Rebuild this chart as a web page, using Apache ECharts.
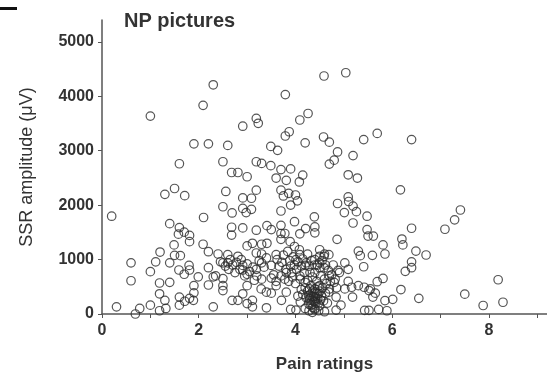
<!DOCTYPE html>
<html>
<head>
<meta charset="utf-8">
<script src="https://cdn.jsdelivr.net/npm/echarts@6/dist/echarts.min.js"></script>
<style>
  html, body { margin: 0; padding: 0; background: #fff; }
  #chart { width: 547px; height: 378px; }
</style>
</head>
<body>
<div id="chart"></div>
<script>
// pain rating (x) vs SSR amplitude in µV (y)
var sparsePoints = [
  [5.04,4431],[4.59,4371],[2.30,4210],[3.79,4030],[2.09,3832],[1.00,3635],[4.26,3683],[4.09,3563],
  [3.19,3593],[3.23,3503],[2.91,3449],[3.87,3347],[3.79,3269],[5.69,3317],[4.58,3251],[4.70,3156],
  [5.41,3204],[6.40,3204],[4.20,3144],[1.90,3126],[2.20,3126],[2.60,3096],[3.49,3078],[3.63,3006],
  [4.87,2976],[5.19,2910],[4.80,2826],[4.70,2754],[1.60,2760],[2.50,2796],[3.19,2796],[3.30,2766],
  [3.49,2725],[3.70,2653],[3.90,2665],[2.68,2599],[2.81,2599],[3.00,2521],[5.09,2557],[5.28,2497],
  [4.15,2551],[4.08,2425],[3.60,2497],[3.81,2455],[6.17,2281],[3.19,2275],[2.56,2251],[1.50,2305],
  [1.30,2198],[1.71,2174],[3.70,2275],[3.75,2168],[3.86,2216],[4.00,2186],[4.04,2078],[3.90,2000],
  [2.91,2132],[3.09,2126],[2.91,1940],[3.09,1922],[2.98,1862],[2.50,1970],[2.69,1856],[3.70,1892],
  [4.87,2030],[5.09,2150],[5.10,2066],[5.19,1982],[5.01,1862],[5.26,1880],[5.48,1796],[5.19,1671],
  [7.41,1910],[7.29,1730],[7.09,1557],[6.40,1575],[0.20,1796],[2.10,1772],[1.40,1659],[1.60,1587],
  [1.70,1503],[1.81,1443],[1.58,1467],[1.81,1329],[2.68,1593],[2.91,1581],[2.68,1449],[3.19,1539],
  [3.41,1623],[3.50,1551],[3.70,1629],[3.70,1479],[3.70,1371],[3.98,1695],[4.39,1784],[4.40,1599],
  [4.21,1569],[4.09,1473],[4.40,1491],[4.86,1371],[5.48,1551],[5.50,1431],[5.61,1431],[5.81,1269],
  [6.20,1377],[6.22,1269],[6.49,1156],[6.70,1084],[5.85,1102],[5.59,1078],[5.30,1156],[5.34,1072],
  [6.40,958],[6.27,784],[6.40,850],[5.41,868],[5.81,653],[5.69,593],[6.18,449],[6.55,287],
  [6.01,269],[5.85,246],[5.72,84],[5.89,60],[5.43,66],[5.52,66],[8.19,629],[7.50,365],
  [7.88,156],[8.29,216]
];

var lowPoints = [
  [0.60,940],[0.60,611],[0.30,132],[0.69,0],[0.78,102],[1.00,162],[1.00,778],[1.11,958],
  [1.20,1138],[1.19,569],[1.19,371],[1.19,60],[1.30,251],[1.32,102],[1.40,581],[1.40,940],
  [1.49,1269],[1.50,1078],[1.62,1072],[1.59,808],[1.70,730],[1.80,892],[1.81,808],[1.60,311],
  [1.60,162],[1.71,234],[1.81,287],[1.89,251],[1.90,521],[1.90,389],[1.99,683],[2.09,1281],
  [2.20,1144],[2.20,850],[2.30,683],[2.20,533],[2.30,132],[2.40,1102],[2.50,940],[2.50,521],
  [2.50,431],[2.60,1090],[2.60,940],[2.69,251],[2.81,251],[2.81,1060],[2.91,892],[2.91,808],
  [3.00,730],[2.91,371],[3.00,521],[3.00,192],[3.11,251],[3.11,132],[3.00,1251],[3.11,1299],
  [3.19,1120],[3.30,1281],[3.41,1299],[3.30,1102],[3.19,820],[3.30,940],[3.50,892],[3.40,1030],
  [3.60,1090],[3.29,461],[3.40,401],[3.50,383],[3.40,114],[3.60,521],[3.71,251],[3.81,401],
  [3.90,84],[4.01,72],[3.81,760],[3.90,880],[4.01,1000],[4.09,1090],[3.98,1240],[3.89,1329],
  [3.78,1479],[4.20,892],[4.09,701],[4.20,581],[4.29,461],[4.29,281],[4.40,222],[4.20,102],
  [4.40,102],[4.60,42],[4.84,72],[4.94,162],[4.84,311],[5.02,461],[5.09,599],[5.09,820],
  [5.02,940],[4.91,760],[4.80,581],[4.70,701],[4.59,850],[4.59,1060],[4.50,1180],[4.50,940],
  [4.40,1000],[4.40,760],[4.50,521],[4.40,401],[4.69,1090],[4.69,401],[5.16,491],[5.18,311],
  [5.30,521],[5.42,491],[5.52,431],[5.60,311],[5.65,383],[5.55,461]
];

var densePoints = [
  [3.62,1000],[3.66,880],[3.72,950],[3.75,1080],[3.80,820],[3.84,1150],[3.88,980],[3.92,760],
  [3.95,1050],[3.98,900],[4.02,820],[4.05,960],[4.08,1180],[4.12,880],[4.15,1010],[4.18,760],
  [4.22,940],[4.25,1100],[3.70,700],[3.78,640],[3.86,600],[3.94,680],[4.00,560],[4.10,640],
  [3.55,720],[3.60,600],[3.50,660],
  [4.22,300],[4.25,420],[4.28,180],[4.30,350],[4.32,520],[4.34,250],[4.36,120],[4.38,320],
  [4.40,460],[4.42,200],[4.44,600],[4.46,280],[4.48,380],[4.50,150],[4.52,700],[4.54,330],
  [4.56,480],[4.58,240],[4.60,640],[4.62,380],[4.64,560],[4.66,200],[4.68,800],[4.70,460],
  [4.72,600],[4.35,680],[4.30,760],[4.25,620],[4.20,480],[4.15,360],[4.10,220],[4.12,450],
  [4.05,330],[4.35,30],[4.40,80],[4.48,60],[4.28,60],[4.45,900],[4.55,980],[4.60,1100],
  [4.50,1060],[4.62,900],[4.75,720],[4.78,900],[4.82,640],[4.85,480],[4.88,800],[4.50,850],
  [4.40,900],[4.33,980],[4.28,880],[4.42,320],[4.36,420],[4.46,500],[4.52,260],[4.30,250],
  [4.38,230],[4.44,380],[4.32,160],[4.47,190],[4.34,330],[4.41,290],[4.27,340],[4.50,420],
  [2.55,880],[2.62,820],[2.70,900],[2.75,760],[2.85,820],[2.95,700],[3.05,780],[3.12,860],
  [3.20,700],[3.25,980],[2.65,1000],[2.78,950],[2.88,1000],[3.00,920],[2.45,960],[2.35,700],
  [2.50,650],[3.15,620],[3.30,640],[3.35,860]
];

var xTicks = [0, 2, 4, 6, 8];
var yTicks = [0, 1000, 2000, 3000, 4000, 5000];

var chart = echarts.init(document.getElementById('chart'));

var tickFont = {
  fontFamily: 'Liberation Sans',
  fontWeight: 'bold',
  fontSize: 16,
  color: '#333'
};

chart.setOption({
  animation: false,
  backgroundColor: '#fff',
  title: {
    text: 'NP pictures',
    left: 119,
    top: 6,
    textStyle: { fontFamily: 'Liberation Sans', fontWeight: 'bold', fontSize: 20, color: '#333' }
  },
  graphic: [
    { type: 'rect', shape: { x: 0, y: 7, width: 17, height: 3 }, style: { fill: '#111' } }
  ],
  grid: { left: 102, right: 0, top: 20, bottom: 59 },
  xAxis: {
    type: 'value',
    min: 0,
    max: 9.2,
    interval: 1,
    name: 'Pain ratings',
    nameLocation: 'middle',
    nameGap: 42,
    nameTextStyle: { fontFamily: 'Liberation Sans', fontWeight: 'bold', fontSize: 17, color: '#333' },
    splitLine: { show: false },
    axisLine: { lineStyle: { color: '#555', width: 1.5 } },
    axisTick: { length: 4, lineStyle: { color: '#555' } },
    axisLabel: Object.assign({
      margin: 9,
      showMaxLabel: false,
      formatter: function (v) { return xTicks.indexOf(v) >= 0 ? String(v) : ''; }
    }, tickFont)
  },
  yAxis: {
    type: 'value',
    min: 0,
    max: 5400,
    interval: 1000,
    name: 'SSR amplitude (μV)',
    nameLocation: 'middle',
    nameRotate: 90,
    nameGap: 66,
    nameTextStyle: { fontFamily: 'Liberation Sans', fontSize: 18, color: '#333' },
    splitLine: { show: false },
    axisLine: { show: true, lineStyle: { color: '#555', width: 1.5 } },
    axisTick: { show: true, length: 4, lineStyle: { color: '#555' } },
    axisLabel: Object.assign({
      margin: 8,
      showMaxLabel: false,
      formatter: function (v) { return yTicks.indexOf(v) >= 0 ? String(v) : ''; }
    }, tickFont)
  },
  series: [{
    type: 'scatter',
    symbol: 'circle',
    symbolSize: 8.5,
    itemStyle: { color: 'rgba(0,0,0,0)', borderColor: '#2a2a2a', borderWidth: 1.2 },
    data: sparsePoints.concat(lowPoints, densePoints)
  }]
});
</script>
</body>
</html>
